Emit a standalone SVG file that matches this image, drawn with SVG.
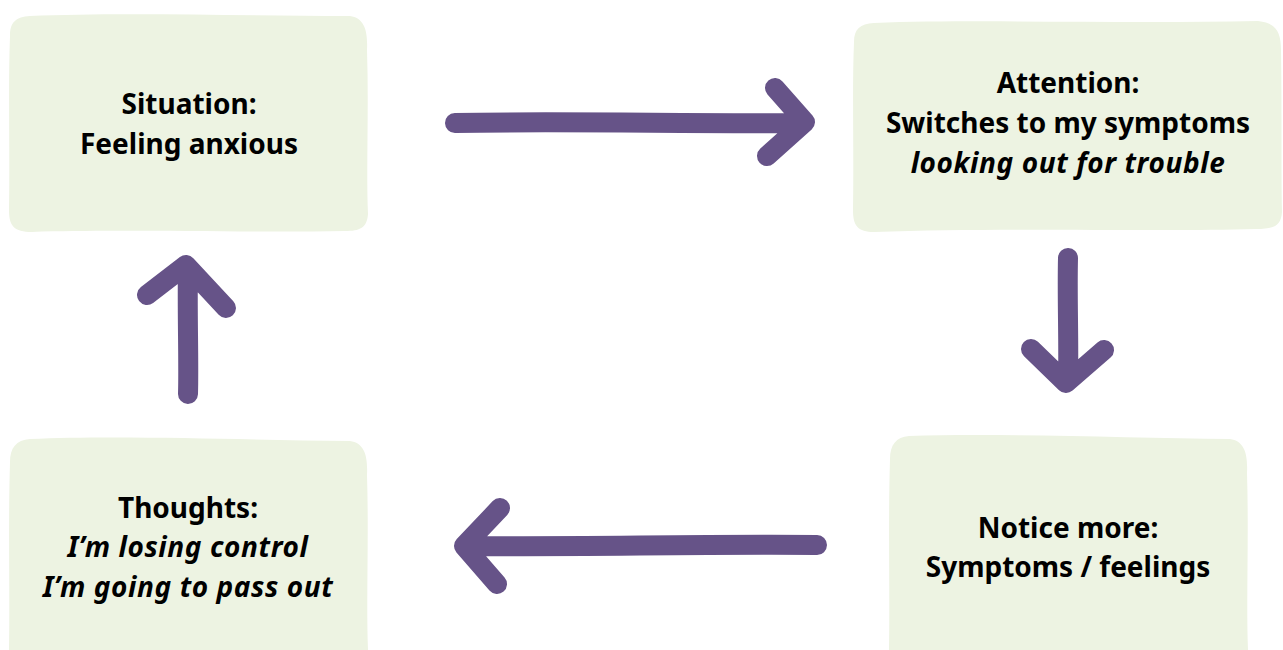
<svg xmlns="http://www.w3.org/2000/svg" width="1283" height="650" viewBox="0 0 1283 650">
<style>
.box{fill:#edf3e2}
.t{font-family:"Noto Sans","Open Sans","Liberation Sans",sans-serif;font-weight:bold;font-size:28px;fill:#000;text-anchor:middle}
.i{font-style:italic;letter-spacing:0.6px}
.arr{fill:none;stroke:#665388;stroke-width:20;stroke-linecap:round;stroke-linejoin:round}
</style>
<rect width="1283" height="650" fill="#fff"/>
<g id="situation">
<path class="box" d="M30,16 C120,12 250,16 350,16 C364,18 368,30 367,50 C369,110 366,170 368,214 C367,228 360,231 345,231 C250,233 120,229 32,232 C14,232 9,226 9,210 C10,150 8,90 10,36 C10,22 16,17 30,16 Z"/>
<text class="t" x="189" y="114">Situation:</text>
<text class="t" x="189" y="154">Feeling anxious</text>
</g>
<g id="attention">
<path class="box" d="M874,23 C980,19 1120,24 1258,21 C1276,23 1281,32 1281,50 C1282,110 1281,170 1282,212 C1281,226 1274,229 1256,229 C1150,232 1000,227 874,232 C858,232 853,226 853,210 C854,150 852,90 854,42 C854,29 860,24 874,23 Z"/>
<text class="t" x="1068" y="93">Attention:</text>
<text class="t" x="1068" y="133">Switches to my symptoms</text>
<text class="t i" x="1068" y="173">looking out for trouble</text>
</g>
<g id="thoughts">
<path class="box" d="M30,439 C120,435 250,440 350,441 C364,443 368,455 367,475 C369,540 366,600 368,650 L9,650 C10,590 8,530 10,462 C10,448 16,440 30,439 Z"/>
<text class="t" x="188" y="518">Thoughts:</text>
<text class="t i" x="188" y="557">I’m losing control</text>
<text class="t i" x="188" y="597">I’m going to pass out</text>
</g>
<g id="notice">
<path class="box" d="M909,436 C1000,433 1130,438 1230,439 C1244,441 1248,453 1247,473 C1249,540 1246,600 1248,650 L889,650 C890,590 888,530 890,459 C890,445 896,437 909,436 Z"/>
<text class="t" x="1068" y="538">Notice more:</text>
<text class="t" x="1068" y="577">Symptoms / feelings</text>
</g>
<g id="connectors">
<path class="arr" d="M455,123 C560,121 700,124 800,123 M775,88 L805,122 L767,156"/>
<path class="arr" d="M1068,258 C1067,300 1069,340 1068,380 M1031,349 L1066,383 L1104,350"/>
<path class="arr" d="M817,545 C700,544 580,547 465,546 M500,508 L464,546 L497,584"/>
<path class="arr" d="M188,394 C189,360 187,310 188,268 M147,295 L186,265 L226,308"/>
</g>
</svg>
